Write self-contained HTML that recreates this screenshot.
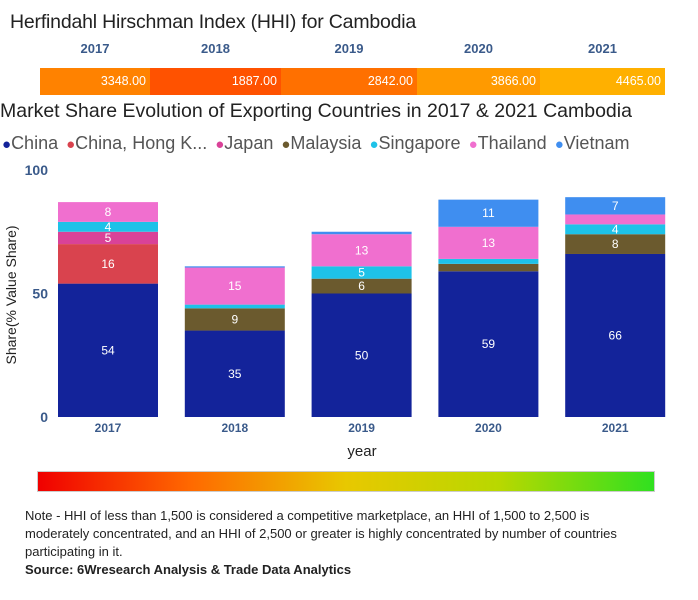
<!DOCTYPE html>
<html><head><meta charset="utf-8"><style>
body{margin:0;width:698px;height:600px;background:#fff;font-family:"Liberation Sans","DejaVu Sans",sans-serif;position:relative;overflow:hidden}
.a{position:absolute}
</style></head><body>
<div class="a" style="left:10px;top:11px;font-size:19.5px;color:#222;letter-spacing:-0.2px">Herfindahl Hirschman Index (HHI) for Cambodia</div>
<div id="hhi"></div>
<div class="a" style="left:0;top:100px;font-size:19.5px;color:#222">Market Share Evolution of Exporting Countries in 2017 &amp; 2021 Cambodia</div>
<div id="legend" class="a" style="left:2px;top:133px;font-size:18px;color:#555;white-space:nowrap"></div>
<svg id="chart" class="a" style="left:0;top:160px" width="698" height="310"></svg>
<div class="a" style="left:37px;top:471px;width:616px;height:19px;background:linear-gradient(to right,#f00000,#ff6a00,#e8c800,#b8d800,#30e020);border:1px solid #ccc"></div>
<div class="a" style="left:25px;top:507px;width:630px;font-size:13px;line-height:18px;color:#222">Note - HHI of less than 1,500 is considered a competitive marketplace, an HHI of 1,500 to 2,500 is moderately concentrated, and an HHI of 2,500 or greater is highly concentrated by number of countries participating in it.<br><b>Source: 6Wresearch Analysis &amp; Trade Data Analytics</b></div>
<script>
const years=["2017","2018","2019","2020","2021"];
const hhiValues=[3348,1887,2842,3866,4465];
const series=["China","China, Hong K...","Japan","Malaysia","Singapore","Thailand","Vietnam"];
const china=[54,35,50,59,66];
const hongkong=[16,0,0,0,0];
const japan=[5,0,0,0,0];
const malaysia=[0,9,6,3,8];
const singapore=[4,1.5,5,2,4];
const thailand=[8,15,13,13,4];
const vietnam=[0,0.5,1,11,7];
const yTicks=[0,50,100];
const colors=["#13239a","#d9434e","#d94298","#6b5a2e","#1ec2e8","#f06fcf","#3f8ef0"];
const hhiCols=["#ff8200","#ff5200","#ff7000","#ff9a00","#ffb000"];
const hhiX=[40,150,281,417,540,665];
const hd=document.getElementById('hhi');
years.forEach((y,i)=>{
 const l=document.createElement('div');l.className='a';
 
 
 l.style.cssText=`left:${hhiX[i]}px;top:41px;width:${hhiX[i+1]-hhiX[i]}px;text-align:center;font-weight:bold;font-size:13px;color:#3a5a8a`;
 l.textContent=y;hd.appendChild(l);
 const c=document.createElement('div');c.className='a';
 
 
 c.style.cssText=`left:${hhiX[i]}px;top:68px;width:${hhiX[i+1]-hhiX[i]-4}px;padding-right:4px;height:27px;line-height:27px;text-align:right;font-size:12.5px;color:#fff;background:${hhiCols[i]}`;
 c.textContent=hhiValues[i].toFixed(2);hd.appendChild(c);
});
const lg=document.getElementById('legend');
series.forEach((s,i)=>{
 const e=document.createElement('span');
 
 
 e.style.marginRight='8px';
 e.innerHTML=`<span style="color:${colors[i]};font-size:15px">●</span>${s}`;
 lg.appendChild(e);
});
const svg=document.getElementById('chart');const NS='http://www.w3.org/2000/svg';
const top0=160;const k=2.47;
const yS=v=>417-top0-v*k;
const xS=i=>58+i*126.8;const bw=100;
function mk(t,a,txt){const e=document.createElementNS(NS,t);for(const q in a)e.setAttribute(q,a[q]);if(txt!=null)e.textContent=txt;svg.appendChild(e);return e;}
yTicks.forEach(t=>{const e=mk('text',{x:48,y:yS(t)+5,'text-anchor':'end','font-size':14,'font-weight':'bold',fill:'#3a5a8a'},t);
 
 });
const data=[china,hongkong,japan,malaysia,singapore,thailand,vietnam];
years.forEach((y,i)=>{
 let acc=0;
 data.forEach((arr,s)=>{
  const v=arr[i];if(!v)return;
  const r=mk('rect',{x:xS(i),y:yS(acc+v),width:bw,height:v*k,fill:colors[s]});
  
  
  if(v>=4&&!(i===4&&s===5)){const t=mk('text',{x:xS(i)+bw/2,y:yS(acc+v/2)+4,'text-anchor':'middle','font-size':12,fill:'#fff'},Math.round(v));
   
   }
  acc+=v;
 });
 const xt=mk('text',{x:xS(i)+bw/2,y:272,'text-anchor':'middle','font-size':12,'font-weight':'bold',fill:'#3a5a8a'},y);
 
 
});
const xa=mk('text',{x:362,y:296,'text-anchor':'middle','font-size':15,fill:'#222'},'year');


const ya=mk('text',{x:16,y:135,'text-anchor':'middle','font-size':14,fill:'#222',transform:'rotate(-90 16 135)'},'Share(% Value Share)');


</script>
</body></html>
